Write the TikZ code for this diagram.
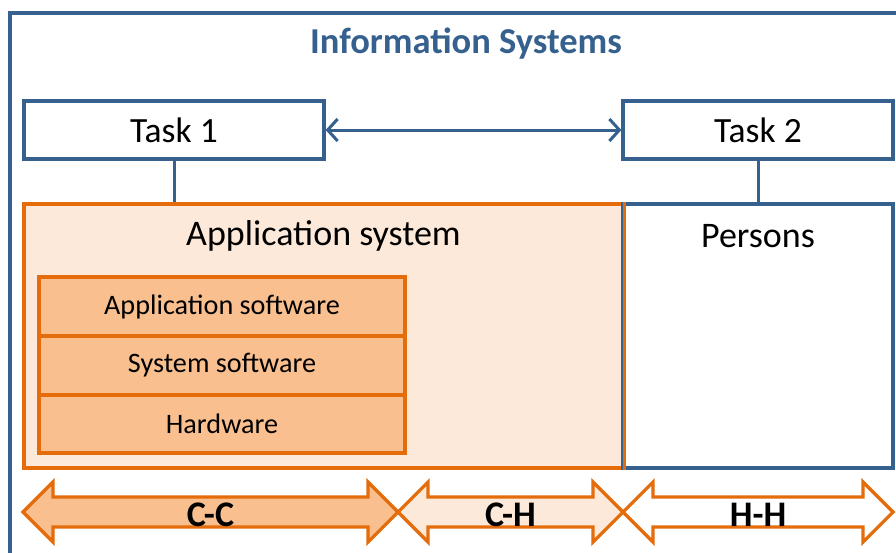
\documentclass[tikz,border=0pt]{standalone}
\usepackage{fontspec}
\setmainfont{Carlito}
\usetikzlibrary{arrows.meta}
\definecolor{isblue}{HTML}{36618F}
\definecolor{isorange}{HTML}{E46C0A}
\definecolor{lightorange}{HTML}{FDE9D9}
\definecolor{midorange}{HTML}{F9BF8F}
\tikzset{
  frameline/.style={draw=isblue, line width=3.2pt},
  taskbox/.style={draw=isblue, line width=3.2pt, fill=white, minimum height=58pt,
    inner sep=0pt, font=\fontsize{35.5}{40}\selectfont},
  layerbox/.style={draw=isorange, line width=3.2pt, fill=midorange, minimum width=366pt,
    minimum height=59pt, inner sep=0pt, outer sep=0pt, font=\fontsize{28.2}{32}\selectfont},
  arrowline/.style={draw=isorange, line width=3.2pt, line join=miter},
  arrowlabel/.style={font=\bfseries\fontsize{36}{40}\selectfont},
  headline/.style={font=\bfseries\fontsize{36.5}{42}\selectfont, text=isblue},
  arealabel/.style={font=\fontsize{36}{42}\selectfont}
}
% horizontal double arrow between two tips, at the fixed band y = 482..542
\newcommand\biarrow[3]{%
  \draw[arrowline, fill=#3] (#1,512) -- (#1+30,482) -- (#1+30,497) -- (#2-30,497)
    -- (#2-30,482) -- (#2,512) -- (#2-30,542) -- (#2-30,527) -- (#1+30,527)
    -- (#1+30,542) -- cycle;}
\begin{document}
\begin{tikzpicture}[x=1pt, y=-1pt]
  \useasboundingbox (0,0) rectangle (896,552);
  \clip (0,0) rectangle (896,552);
  \fill[white] (0,0) rectangle (896,552);

  % outer frame, running off the right and bottom edges
  \draw[frameline] (900,13) -- (10,13) -- (10,560);
  \node[headline] (title) at (466,44) {Information Systems};

  % tasks
  \node[taskbox, minimum width=300pt] (task1) at (174,130) {\raisebox{-1pt}{Task 1}};
  \node[taskbox, minimum width=270pt] (task2) at (758,130) {\raisebox{-1pt}{Task 2}};
  \draw[isblue, line width=3pt, {Straight Barb[length=10pt,width=22pt]}-{Straight Barb[length=10pt,width=22pt]}]
    (task1.east) -- (task2.west);

  % application system and persons
  \node[draw=isorange, line width=3.2pt, fill=lightorange, minimum width=599pt,
        minimum height=264pt, inner sep=0pt] (app) at (323.5,336) {};
  \node[draw=isblue, line width=3.2pt, fill=white, minimum width=270pt,
        minimum height=264pt, inner sep=0pt] (persons) at (758,336) {};
  \draw[isorange, line width=3.2pt] (app.north east) -- (app.south east);
  \node[arealabel] (applabel) at (323.5,236) {Application system};
  \node[arealabel] (perslabel) at (758,236) {Persons};

  \coordinate (c1) at (task1.south |- app.north);
  \coordinate (c2) at (task2.south |- persons.north);
  \draw[isblue, line width=3pt] (task1.south) -- (c1);
  \draw[isblue, line width=3pt] (task2.south) -- (c2);

  % software/hardware layers
  \node[layerbox] (appsw) at (222,306.5) {\raisebox{-2pt}{Application software}};
  \node[layerbox, anchor=north] (syssw) at (appsw.south) {\raisebox{-2pt}{System software}};
  \node[layerbox, minimum height=58pt, anchor=north] (hw) at (syssw.south) {\raisebox{-2pt}{Hardware}};

  % communication types
  \biarrow{23}{398}{midorange}
  \biarrow{398}{623}{lightorange}
  \biarrow{623}{893}{white}
  \node[arrowlabel] (cc) at (210.5,515) {C-C};
  \node[arrowlabel] (ch) at (510.5,515) {C-H};
  \node[arrowlabel] (hh) at (758,515) {H-H};
\end{tikzpicture}
\end{document}
